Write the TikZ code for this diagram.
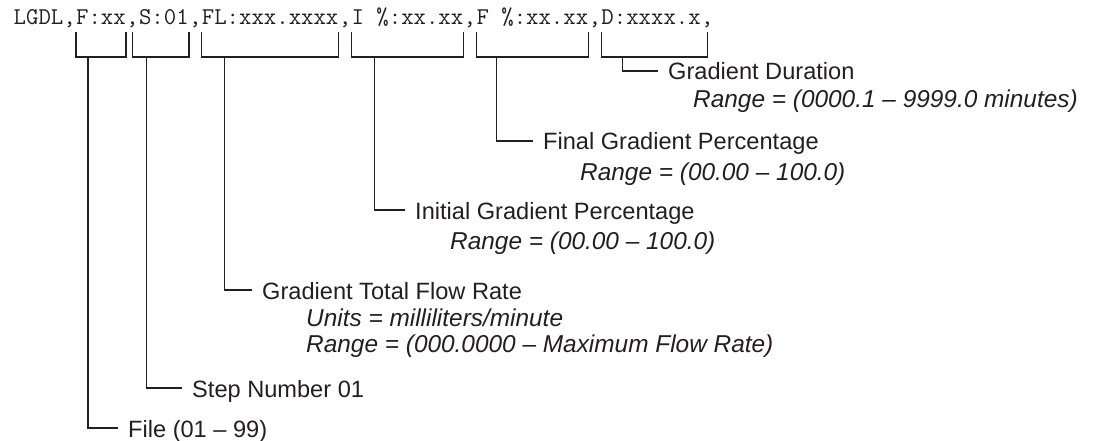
\documentclass[tikz,border=0pt]{standalone}
\usepackage{fontspec}
\setmainfont{Liberation Sans}
\usetikzlibrary{positioning}
\definecolor{inkdark}{HTML}{231F20}

\begin{document}
\begin{tikzpicture}[x=1pt, y=-1pt,
    code/.style={inner sep=0pt, text height=15pt, text depth=4pt, text=inkdark,
                 font=\ttfamily\fontsize{24.1}{26}\selectfont},
    title/.style={inner sep=0pt, anchor=west, text height=18pt, text depth=0pt, text=inkdark,
                  font=\fontsize{23.6}{26}\selectfont},
    sub/.style={inner sep=0pt, anchor=base west, text=inkdark,
                font=\fontsize{24.4}{27}\selectfont\itshape},
    line/.style={draw=inkdark, line width=1.3pt}]
  \useasboundingbox (0,0) rectangle (1096,441);

  % command string
  \node[code, anchor=base west] (lead) at (13.5,25) {LGDL,};
  \node[code, right=0pt of lead] (ffile) {F:xx};
  \node[code, right=0pt of ffile] (c1) {,};
  \node[code, right=0pt of c1] (fstep) {S:01};
  \node[code, right=0pt of fstep] (c2) {,};
  \node[code, right=0pt of c2] (fflow) {FL:xxx.xxxx};
  \node[code, right=0pt of fflow] (c3) {,};
  \node[code, right=0pt of c3] (finit) {I \%:xx.xx};
  \node[code, right=0pt of finit] (c4) {,};
  \node[code, right=0pt of c4] (ffin) {F \%:xx.xx};
  \node[code, right=0pt of ffin] (c5) {,};
  \node[code, right=0pt of c5] (fdur) {D:xxxx.x};
  \node[code, right=0pt of fdur] (c6) {,};

  % field descriptions
  \node[title] (tdur) at (668,71) {Gradient Duration};
  \node[sub] (rdur) at ([xshift=25pt, yshift=-28pt]tdur.base west) {Range = (0000.1 – 9999.0 minutes)};
  \node[title] (tfin) at (543,141) {Final Gradient Percentage};
  \node[sub] (rfin) at ([xshift=37pt, yshift=-31pt]tfin.base west) {Range = (00.00 – 100.0)};
  \node[title] (tinit) at (415,210) {Initial Gradient Percentage};
  \node[sub] (rinit) at ([xshift=35pt, yshift=-31pt]tinit.base west) {Range = (00.00 – 100.0)};
  \node[title] (tflow) at (262,290) {Gradient Total Flow Rate};
  \node[sub] (uflow) at ([xshift=44pt, yshift=-27pt]tflow.base west) {Units = milliliters/minute};
  \node[sub] (rflow) at ([yshift=-26pt]uflow.base west) {Range = (000.0000 – Maximum Flow Rate)};
  \node[title] (tstep) at (192,388) {Step Number 01};
  \node[title] (tfile) at (128,428) {File (01 – 99)};

  % brackets
  \draw[line] (ffile.west |- 0,32) -- (ffile.west |- 0,57) coordinate (bfile) -| (ffile.east |- 0,32);
  \draw[line] (c1.center |- 0,32) -- (c1.center |- 0,57) coordinate (bstep) -| (fstep.east |- 0,32);
  \draw[line] (fflow.west |- 0,32) -- (fflow.west |- 0,57) coordinate (bflow) -| (fflow.east |- 0,32);
  \draw[line] (finit.west |- 0,32) -- (finit.west |- 0,57) coordinate (binit) -| (finit.east |- 0,32);
  \draw[line] (ffin.west |- 0,32) -- (ffin.west |- 0,57) coordinate (bfin) -| (ffin.east |- 0,32);
  \draw[line] (fdur.west |- 0,32) -- (fdur.west |- 0,57) coordinate (bdur) -| (c6.center |- 0,32);

  % leaders
  \draw[line] (bfile) ++(12,0) |- ([xshift=-10pt]tfile.west);
  \draw[line] (bstep) ++(14,0) |- ([xshift=-10pt]tstep.west);
  \draw[line] (bflow) ++(23,0) |- ([xshift=-10pt]tflow.west);
  \draw[line] (binit) ++(23,0) |- ([xshift=-10pt]tinit.west);
  \draw[line] (bfin) ++(20,0) |- ([xshift=-10pt]tfin.west);
  \draw[line] (bdur) ++(21,0) |- ([xshift=-10pt]tdur.west);
\end{tikzpicture}
\end{document}
